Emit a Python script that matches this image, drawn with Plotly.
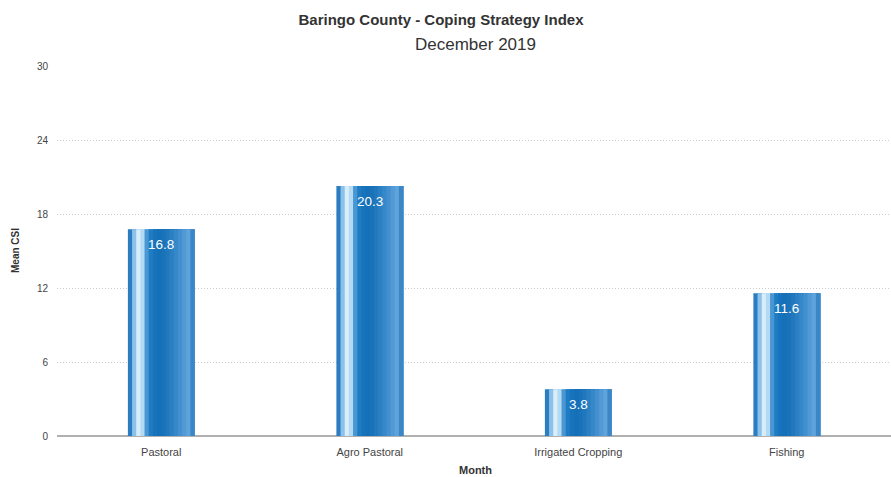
import plotly.graph_objects as go

categories = ["Pastoral", "Agro Pastoral", "Irrigated Cropping", "Fishing"]
csi_values = [16.8, 20.3, 3.8, 11.6]
y_ticks = [0, 6, 12, 18, 24, 30]

# cylinder-like shading: colors of vertical strips from left to right
strip_colors = ["#2b7cc0", "#8cc2ea", "#d8edfa", "#b4d9f3", "#4896d3", "#1f7cc2",
                "#1773bb", "#1670b8", "#1a72b9", "#2178bd", "#2a80c3", "#3689c9",
                "#438fcf", "#519ad5", "#5ea3d9", "#3a86c6"]
bar_w = 0.32
n = len(strip_colors)
sw = bar_w / n
FONT = "Liberation Sans, Arial, sans-serif"
L, T, B, H = 57, 66, 41, 477
PH = H - T - B

fig = go.Figure()
for i, c in enumerate(strip_colors):
    fig.add_trace(go.Bar(
        x=categories, y=csi_values,
        width=bar_w - i * sw, offset=-bar_w / 2 + i * sw,
        marker=dict(color=c, line=dict(width=0)),
        hoverinfo="skip", showlegend=False,
    ))

for cat, v in zip(categories, csi_values):
    fig.add_annotation(x=cat, y=v, text=f"{v:.1f}", showarrow=False,
                       yshift=-15, font=dict(color="white", size=13.5, family=FONT))

fig.add_annotation(xref="paper", yref="paper", x=(475 - L) / 834, y=(H - B - 45) / PH,
                   xanchor="center", yanchor="middle",
                   text="December 2019", showarrow=False,
                   font=dict(size=17, color="#333", family=FONT))
fig.add_annotation(xref="paper", yref="paper", x=(15 - L) / 834, y=0.5,
                   xanchor="center", yanchor="middle",
                   text="<b>Mean CSI</b>", textangle=-90, showarrow=False,
                   font=dict(size=10, color="#333", family=FONT))
fig.add_annotation(xref="paper", yref="paper", x=(475 - L) / 834, y=(H - B - 470) / PH,
                   xanchor="center", yanchor="middle",
                   text="<b>Month</b>", showarrow=False,
                   font=dict(size=11, color="#333", family=FONT))

fig.update_layout(
    width=891, height=H,
    margin=dict(l=L, r=0, t=T, b=B),
    barmode="overlay",
    plot_bgcolor="white", paper_bgcolor="white",
    font=dict(family=FONT, color="#444", size=11),
    title=dict(
        text="<b>Baringo County - Coping Strategy Index</b>",
        xref="container", x=(441 + 0) / 891, xanchor="center",
        yref="container", y=1 - 20 / H, yanchor="middle",
        font=dict(size=15, color="#333"),
    ),
    xaxis=dict(
        type="category", categoryorder="array", categoryarray=categories,
        showgrid=False, showline=False, ticks="", zeroline=False, automargin=False,
        tickfont=dict(size=11, color="#444"), ticklabelstandoff=8,
    ),
    yaxis=dict(
        range=[0, 30.05], tickvals=y_ticks, automargin=False,
        showgrid=True, gridcolor="#cccccc", griddash="1px,2px", gridwidth=1,
        zeroline=True, zerolinecolor="#b0b0b0", zerolinewidth=1.5,
        showline=False, ticks="", tickfont=dict(size=10, color="#444"),
        ticklabelstandoff=8,
    ),
    showlegend=False,
)

fig.write_html("out.html", config={"displayModeBar": False},
               post_script="document.body.style.margin='0';")
